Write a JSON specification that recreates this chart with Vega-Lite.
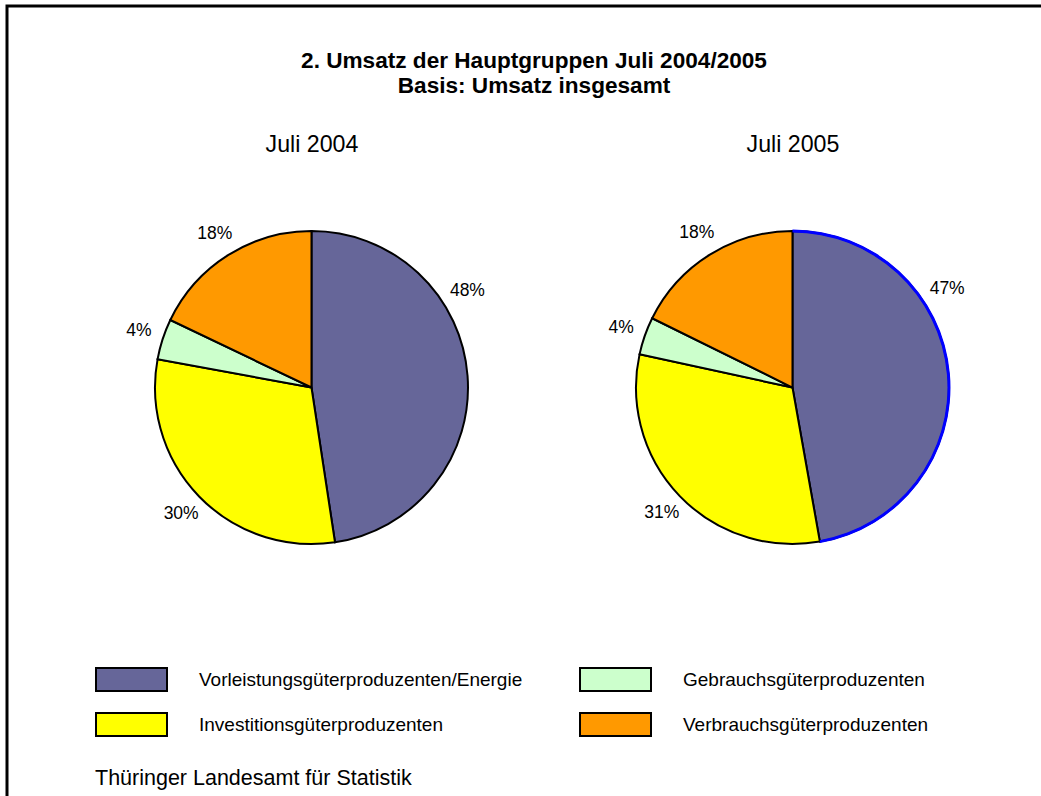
{
  "$schema": "https://vega.github.io/schema/vega-lite/v6.json",
  "width": 1040,
  "height": 796,
  "autosize": {"type": "none"},
  "padding": {"left": 7, "top": 6, "right": -6, "bottom": -6},
  "background": "white",
  "config": {
    "font": "Liberation Sans",
    "view": {"stroke": "black", "strokeWidth": 3}
  },
  "title": {
    "text": "2. Umsatz der Hauptgruppen Juli 2004/2005",
    "subtitle": "Basis: Umsatz insgesamt",
    "frame": "group",
    "anchor": "middle",
    "dx": 7,
    "offset": -92,
    "fontSize": 22.6,
    "fontWeight": "bold",
    "color": "black",
    "subtitleFontSize": 22.6,
    "subtitleFontWeight": "bold",
    "subtitleColor": "black",
    "subtitlePadding": 3
  },
  "data": {
    "values": [
      {"year": "Juli 2004", "yr": 2004, "cat": "Vorleistungsgüterproduzenten/Energie", "idx": 0, "value": 47.6, "label": "48%"},
      {"year": "Juli 2004", "yr": 2004, "cat": "Investitionsgüterproduzenten", "idx": 1, "value": 30.3, "label": "30%"},
      {"year": "Juli 2004", "yr": 2004, "cat": "Gebrauchsgüterproduzenten", "idx": 2, "value": 4.2, "label": "4%"},
      {"year": "Juli 2004", "yr": 2004, "cat": "Verbrauchsgüterproduzenten", "idx": 3, "value": 17.9, "label": "18%"},
      {"year": "Juli 2005", "yr": 2005, "cat": "Vorleistungsgüterproduzenten/Energie", "idx": 0, "value": 47.2, "label": "47%"},
      {"year": "Juli 2005", "yr": 2005, "cat": "Investitionsgüterproduzenten", "idx": 1, "value": 31.2, "label": "31%"},
      {"year": "Juli 2005", "yr": 2005, "cat": "Gebrauchsgüterproduzenten", "idx": 2, "value": 3.9, "label": "4%"},
      {"year": "Juli 2005", "yr": 2005, "cat": "Verbrauchsgüterproduzenten", "idx": 3, "value": 17.7, "label": "18%"}
    ]
  },
  "encoding": {
    "x": {
      "field": "year", "type": "nominal",
      "scale": {"type": "point", "padding": 0.5811, "align": 0.5447},
      "axis": {
        "orient": "top", "title": null, "ticks": false, "domain": false, "grid": false,
        "labelFontSize": 23.2, "labelColor": "black", "labelBaseline": "alphabetic",
        "labelPadding": 0, "offset": -145.5, "labelAngle": 0
      }
    },
    "y": {"datum": 0.4793, "type": "quantitative", "scale": {"domain": [0, 1], "reverse": true}, "axis": null},
    "theta": {"field": "value", "type": "quantitative", "stack": "normalize"},
    "radius": {"field": "yr", "type": "quantitative", "scale": {"type": "linear", "domain": [2004, 2005], "range": [156.5, 156.5], "zero": false}},
    "order": {"field": "idx", "type": "quantitative"}
  },
  "layer": [
    {
      "mark": {"type": "arc", "stroke": "black", "strokeWidth": 2, "radius2": 0},
      "encoding": {
        "color": {
          "field": "cat", "type": "nominal",
          "scale": {
            "domain": ["Vorleistungsgüterproduzenten/Energie", "Investitionsgüterproduzenten", "Gebrauchsgüterproduzenten", "Verbrauchsgüterproduzenten"],
            "range": ["#666699", "#FFFF00", "#CCFFCC", "#FF9900"]
          },
          "legend": {
            "orient": "none", "legendX": 88, "legendY": 661, "direction": "vertical",
            "columns": 2, "columnPadding": 53, "rowPadding": 14, "padding": 0,
            "symbolType": "M-1,-1L5.174,-1L5.174,1L-1,1Z", "symbolSize": 529,
            "symbolStrokeColor": "black", "symbolStrokeWidth": 2, "symbolOpacity": 1,
            "labelFontSize": 19, "labelOffset": 79, "labelLimit": 0, "labelColor": "black",
            "title": "Thüringer Landesamt für Statistik",
            "titleOrient": "bottom", "titleAnchor": "start", "titleFontSize": 21.5,
            "titleFontWeight": "normal", "titleColor": "black", "titlePadding": 28,
            "titleLimit": 600
          }
        }
      }
    },
    {
      "mark": {"type": "arc", "fill": "#0000ff", "radiusOffset": 1.5, "radius2": 155},
      "encoding": {
        "opacity": {"condition": {"test": "datum.year === 'Juli 2005' && datum.idx === 0", "value": 1}, "value": 0}
      }
    },
    {
      "mark": {"type": "text", "radiusOffset": 25, "fontSize": 17.5, "color": "black"},
      "encoding": {
        "text": {"field": "label", "type": "nominal"},
        "detail": {"field": "cat", "type": "nominal"},
        "opacity": {"condition": {"test": "datum.idx === 0", "value": 0}, "value": 1}
      }
    },
    {
      "mark": {"type": "text", "radiusOffset": 27, "thetaOffset": -0.48, "fontSize": 17.5, "color": "black"},
      "encoding": {
        "text": {"field": "label", "type": "nominal"},
        "detail": {"field": "cat", "type": "nominal"},
        "opacity": {"condition": {"test": "datum.idx === 0", "value": 1}, "value": 0}
      }
    }
  ]
}
